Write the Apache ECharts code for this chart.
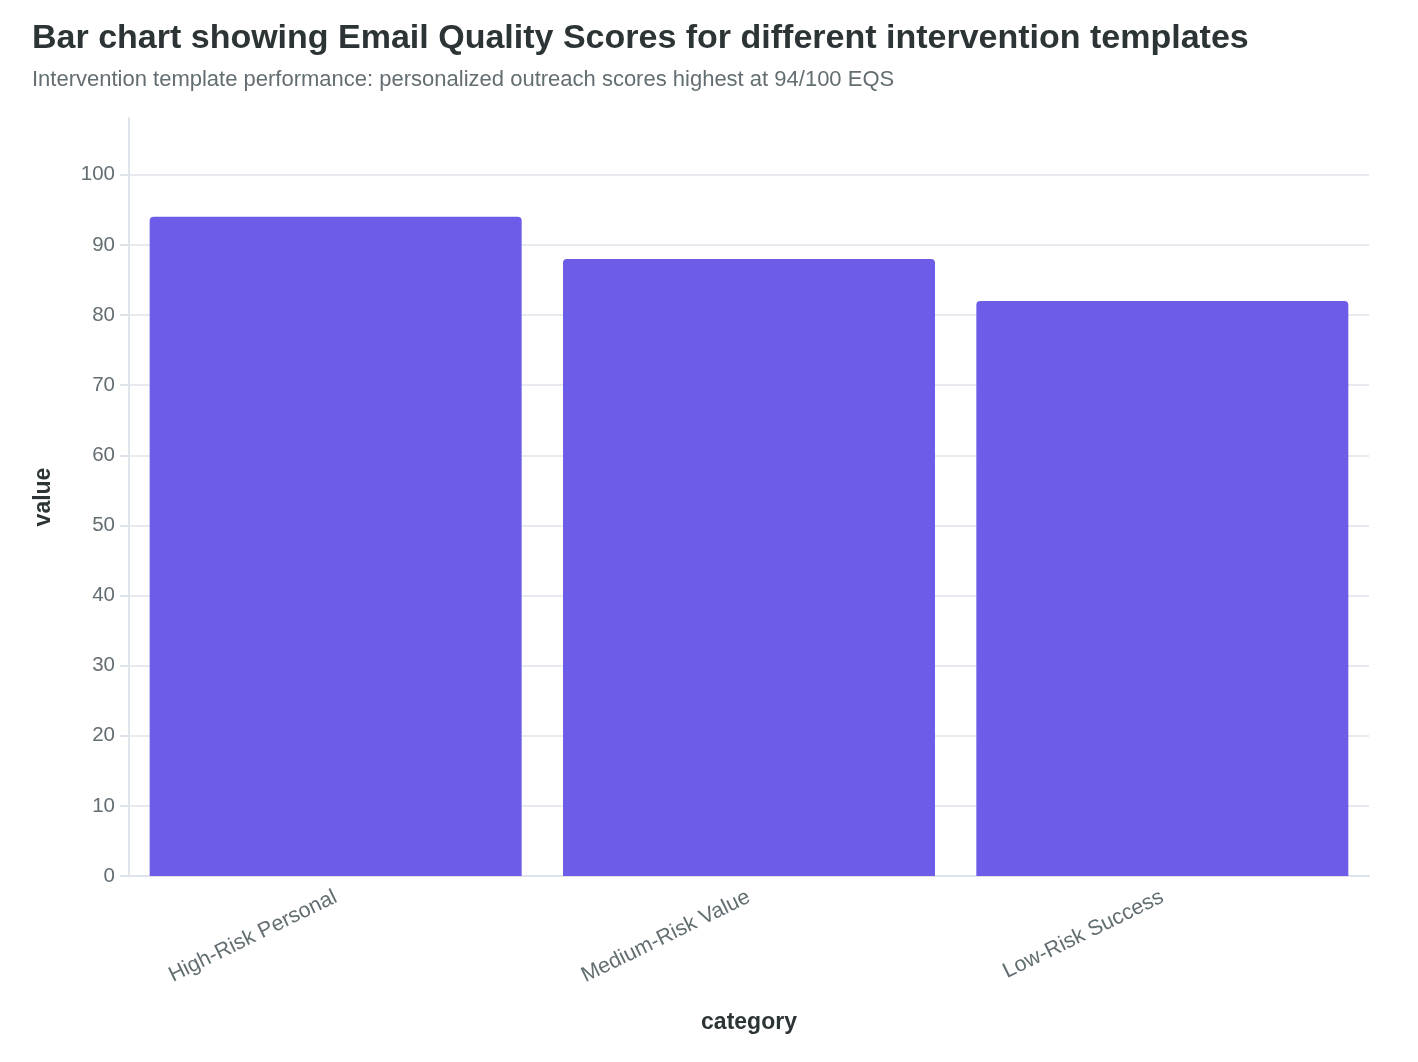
<!DOCTYPE html>
<html><head><meta charset="utf-8">
<style>html,body{margin:0;padding:0;background:#fff}#c{width:1418px;height:1062px}</style>
<script src="https://cdn.jsdelivr.net/npm/echarts@6/dist/echarts.min.js"></script>
</head><body><div id="c"></div>
<script>
const categories = ['High-Risk Personal', 'Medium-Risk Value', 'Low-Risk Success'];
const values = [94, 88, 82];
const titleText = 'Bar chart showing Email Quality Scores for different intervention templates';
const subtitleText = 'Intervention template performance: personalized outreach scores highest at 94/100 EQS';

const chart = echarts.init(document.getElementById('c'), null, {renderer: 'canvas'});
chart.setOption({
  animation: false,
  backgroundColor: '#ffffff',
  textStyle: {fontFamily: 'Liberation Sans, Arial, sans-serif'},
  title: {
    text: titleText, subtext: subtitleText, left: 27, top: 17,
    textStyle: {fontSize: 34, fontWeight: 'bold', color: '#2d3436', fontFamily: 'Liberation Sans'},
    subtextStyle: {fontSize: 22, color: '#636e72', fontFamily: 'Liberation Sans'},
    itemGap: 13
  },
  grid: {left: 129, right: 49, top: 118, bottom: 186, containLabel: false},
  xAxis: {
    type: 'category', data: categories,
    name: 'category', nameLocation: 'middle', nameGap: 135,
    nameTextStyle: {fontSize: 23, fontWeight: 'bold', color: '#2d3436'},
    axisLine: {lineStyle: {color: '#dfe4ea', width: 2}},
    axisTick: {alignWithLabel: true, length: 9, lineStyle: {color: '#dfe4ea', width: 2}},
    axisLabel: {rotate: 26, fontSize: 21.5, color: '#636e72', margin: 20}
  },
  yAxis: {
    type: 'value', min: 0, max: 108.1, interval: 10,
    name: 'value', nameLocation: 'middle', nameGap: 74, nameRotate: 90,
    nameTextStyle: {fontSize: 23, fontWeight: 'bold', color: '#2d3436'},
    axisLine: {show: true, lineStyle: {color: '#dfe4ea', width: 2}},
    axisTick: {show: true, length: 9, lineStyle: {color: '#dfe4ea', width: 2}},
    axisLabel: {fontSize: 20.5, color: '#636e72', margin: 14, showMaxLabel: false},
    splitLine: {show: true, showMaxLine: false, lineStyle: {color: '#dfe4ea', width: 1.5}}
  },
  series: [{
    type: 'bar', data: values, barCategoryGap: '10%',
    itemStyle: {color: '#6c5ce7', borderRadius: [4, 4, 0, 0]}
  }]
});
</script></body></html>
